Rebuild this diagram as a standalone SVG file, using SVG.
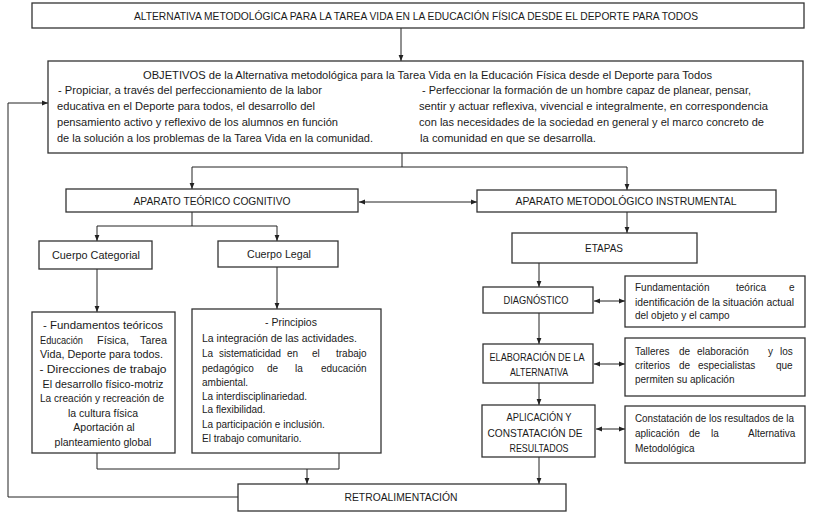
<svg xmlns="http://www.w3.org/2000/svg" width="814" height="525" viewBox="0 0 814 525">
<style>
.box{fill:#fff;stroke:#333;stroke-width:1.3}
.t{font-family:"Liberation Sans",Arial,sans-serif;fill:#1a1a1a;font-size:10.5px}
.s{font-size:10px}
.c{text-anchor:middle}
.h{font-size:11px}
.ln{fill:none;stroke:#222;stroke-width:1}
</style>
<defs>
<marker id="ah" viewBox="0 0 10 10" refX="10" refY="5" markerWidth="6" markerHeight="6" markerUnits="userSpaceOnUse" orient="auto-start-reverse"><path d="M0,1 L10,5 L0,9 z" fill="#222"/></marker>
</defs>
<rect width="814" height="525" fill="#fff"/>

<g id="connectors">
<path class="ln" d="M401,28 V61" marker-end="url(#ah)"/>
<path class="ln" d="M402,153 V167"/>
<path class="ln" d="M192,189 V167 H627 V190" marker-start="url(#ah)" marker-end="url(#ah)"/>
<path class="ln" d="M359,202 H477" marker-start="url(#ah)" marker-end="url(#ah)"/>
<path class="ln" d="M192,212 V226"/>
<path class="ln" d="M97,241 V226 H277 V241" marker-start="url(#ah)" marker-end="url(#ah)"/>
<path class="ln" d="M97,269 V312" marker-end="url(#ah)"/>
<path class="ln" d="M277,267 V309" marker-end="url(#ah)"/>
<path class="ln" d="M97,453 V469 H339 V453"/>
<path class="ln" d="M307,469 V484" marker-end="url(#ah)"/>
<path class="ln" d="M627,212 V233" marker-end="url(#ah)"/>
<path class="ln" d="M539,263 V287" marker-end="url(#ah)"/>
<path class="ln" d="M539,313 V344" marker-end="url(#ah)"/>
<path class="ln" d="M539,383 V405" marker-end="url(#ah)"/>
<path class="ln" d="M539,457 V484" marker-end="url(#ah)"/>
<path class="ln" d="M594,301 H625" marker-start="url(#ah)" marker-end="url(#ah)"/>
<path class="ln" d="M594,364 H625" marker-start="url(#ah)" marker-end="url(#ah)"/>
<path class="ln" d="M596,429 H625" marker-start="url(#ah)" marker-end="url(#ah)"/>
<path class="ln" d="M238,497 H8 V103 H48" marker-end="url(#ah)"/>
</g>

<g id="titulo">
<rect class="box" x="32" y="3" width="772" height="25"/>
<text class="t c h" x="416" y="20" textLength="564" lengthAdjust="spacingAndGlyphs">ALTERNATIVA METODOLÓGICA PARA LA TAREA VIDA EN LA EDUCACIÓN FÍSICA DESDE EL DEPORTE PARA TODOS</text>
</g>

<g id="objetivos">
<rect class="box" x="48" y="61" width="755" height="92"/>
<text class="t h" x="143" y="79" textLength="569" lengthAdjust="spacingAndGlyphs">OBJETIVOS de la Alternativa metodológica para la Tarea Vida en la Educación Física desde el Deporte para Todos</text>
<text class="t" x="58" y="94" textLength="264" lengthAdjust="spacingAndGlyphs">- Propiciar, a través del perfeccionamiento de la labor</text>
<text class="t" x="57" y="110" textLength="258" lengthAdjust="spacingAndGlyphs">educativa en el Deporte para todos, el desarrollo del</text>
<text class="t" x="57" y="126" textLength="281" lengthAdjust="spacingAndGlyphs">pensamiento activo y reflexivo de los alumnos en función</text>
<text class="t" x="57" y="142" textLength="316" lengthAdjust="spacingAndGlyphs">de la solución a los problemas de la Tarea Vida en la comunidad.</text>
<text class="t" x="422" y="94" textLength="329" lengthAdjust="spacingAndGlyphs">- Perfeccionar la formación de un hombre capaz de planear, pensar,</text>
<text class="t" x="419" y="110" textLength="349" lengthAdjust="spacingAndGlyphs">sentir y actuar reflexiva, vivencial e integralmente, en correspondencia</text>
<text class="t" x="419" y="126" textLength="345" lengthAdjust="spacingAndGlyphs">con las  necesidades de la sociedad en general  y el marco concreto de</text>
<text class="t" x="420" y="142" textLength="176" lengthAdjust="spacingAndGlyphs">la comunidad en que se desarrolla.</text>
</g>

<g id="atc">
<rect class="box" x="66" y="189" width="292" height="23"/>
<text class="t c h" x="212" y="205" textLength="157" lengthAdjust="spacingAndGlyphs">APARATO TEÓRICO COGNITIVO</text>
</g>

<g id="ami">
<rect class="box" x="477" y="190" width="299" height="22"/>
<text class="t c h" x="626" y="205" textLength="221" lengthAdjust="spacingAndGlyphs">APARATO METODOLÓGICO INSTRUMENTAL</text>
</g>

<g id="cuerpo-categorial">
<rect class="box" x="39" y="241" width="113" height="28"/>
<text class="t c h" x="96" y="259" textLength="88" lengthAdjust="spacingAndGlyphs">Cuerpo Categorial</text>
</g>

<g id="cuerpo-legal">
<rect class="box" x="218" y="241" width="120" height="26"/>
<text class="t c h" x="279" y="258" textLength="64" lengthAdjust="spacingAndGlyphs">Cuerpo Legal</text>
</g>

<g id="etapas">
<rect class="box" x="512" y="233" width="185" height="30"/>
<text class="t c h" x="604" y="252" textLength="38" lengthAdjust="spacingAndGlyphs">ETAPAS</text>
</g>

<g id="fundamentos">
<rect class="box" x="32" y="312" width="143" height="141"/>
<text class="t c" x="103" y="329" font-size="12" textLength="120" lengthAdjust="spacingAndGlyphs">- Fundamentos teóricos</text>
<text class="t" x="40" y="344" textLength="43" lengthAdjust="spacingAndGlyphs">Educación</text>
<text class="t" x="97" y="344" textLength="32" lengthAdjust="spacingAndGlyphs">Física,</text>
<text class="t" x="140" y="344" textLength="27" lengthAdjust="spacingAndGlyphs">Tarea</text>
<text class="t" x="40" y="358" textLength="123" lengthAdjust="spacingAndGlyphs">Vida, Deporte para todos.</text>
<text class="t c" x="103" y="373" font-size="12" textLength="127" lengthAdjust="spacingAndGlyphs">- Direcciones de trabajo</text>
<text class="t c" x="103" y="388" textLength="121" lengthAdjust="spacingAndGlyphs">El desarrollo físico-motriz</text>
<text class="t c" x="102" y="402" textLength="124" lengthAdjust="spacingAndGlyphs">La creación y recreación de</text>
<text class="t c" x="103" y="417">la cultura física</text>
<text class="t c" x="104" y="431">Aportación al</text>
<text class="t c" x="103" y="446">planteamiento global</text>
</g>

<g id="principios">
<rect class="box" x="192" y="309" width="189" height="144"/>
<text class="t c" x="291" y="326" font-size="12">- Principios</text>
<text class="t s" x="202" y="342" textLength="155" lengthAdjust="spacingAndGlyphs">La integración de las actividades.</text>
<text class="t s" x="202" y="357">La</text>
<text class="t s" x="219" y="357" textLength="62" lengthAdjust="spacingAndGlyphs">sistematicidad</text>
<text class="t s" x="287" y="357">en</text>
<text class="t s" x="312" y="357">el</text>
<text class="t s" x="336" y="357">trabajo</text>
<text class="t s" x="202" y="372">pedagógico</text>
<text class="t s" x="267" y="372">de</text>
<text class="t s" x="295" y="372">la</text>
<text class="t s" x="321" y="372">educación</text>
<text class="t s" x="202" y="386">ambiental.</text>
<text class="t s" x="202" y="400">La interdisciplinariedad.</text>
<text class="t s" x="202" y="413">La flexibilidad.</text>
<text class="t s" x="202" y="428">La participación  e inclusión.</text>
<text class="t s" x="202" y="442">El trabajo comunitario.</text>
</g>

<g id="diagnostico">
<rect class="box" x="483" y="287" width="110" height="26"/>
<text class="t c h" x="536" y="304" textLength="65" lengthAdjust="spacingAndGlyphs">DIAGNÓSTICO</text>
</g>

<g id="elaboracion">
<rect class="box" x="483" y="344" width="110" height="39"/>
<text class="t c h" x="537" y="361" textLength="95" lengthAdjust="spacingAndGlyphs">ELABORACIÓN DE LA</text>
<text class="t c h" x="539" y="376" textLength="58" lengthAdjust="spacingAndGlyphs">ALTERNATIVA</text>
</g>

<g id="aplicacion">
<rect class="box" x="482" y="405" width="113" height="52"/>
<text class="t c h" x="539" y="421" textLength="65" lengthAdjust="spacingAndGlyphs">APLICACIÓN Y</text>
<text class="t c h" x="535" y="437" textLength="95" lengthAdjust="spacingAndGlyphs">CONSTATACIÓN DE</text>
<text class="t c h" x="539" y="452" textLength="59" lengthAdjust="spacingAndGlyphs">RESULTADOS</text>
</g>

<g id="fundamentacion">
<rect class="box" x="625" y="276" width="180" height="51"/>
<text class="t s" x="635" y="291">Fundamentación</text>
<text class="t s" x="736" y="291">teórica</text>
<text class="t s" x="789" y="291">e</text>
<text class="t s" x="635" y="306" textLength="159" lengthAdjust="spacingAndGlyphs">identificación de la situación actual</text>
<text class="t s" x="635" y="319">del objeto y el campo</text>
</g>

<g id="talleres">
<rect class="box" x="625" y="338" width="180" height="58"/>
<text class="t s" x="635" y="355">Talleres</text>
<text class="t s" x="679" y="355">de</text>
<text class="t s" x="697" y="355">elaboración</text>
<text class="t s" x="768" y="355">y</text>
<text class="t s" x="780" y="355">los</text>
<text class="t s" x="635" y="369">criterios</text>
<text class="t s" x="679" y="369">de</text>
<text class="t s" x="698" y="369">especialistas</text>
<text class="t s" x="776" y="369">que</text>
<text class="t s" x="635" y="383">permiten su aplicación</text>
</g>

<g id="constatacion">
<rect class="box" x="625" y="406" width="180" height="57"/>
<text class="t s" x="635" y="422" textLength="159" lengthAdjust="spacingAndGlyphs">Constatación de los resultados de la</text>
<text class="t s" x="635" y="437">aplicación</text>
<text class="t s" x="689" y="437">de</text>
<text class="t s" x="711" y="437">la</text>
<text class="t s" x="748" y="437">Alternativa</text>
<text class="t s" x="635" y="452">Metodológica</text>
</g>

<g id="retroalimentacion">
<rect class="box" x="238" y="484" width="328" height="27"/>
<text class="t c h" x="401" y="501" textLength="113" lengthAdjust="spacingAndGlyphs">RETROALIMENTACIÓN</text>
</g>
</svg>
